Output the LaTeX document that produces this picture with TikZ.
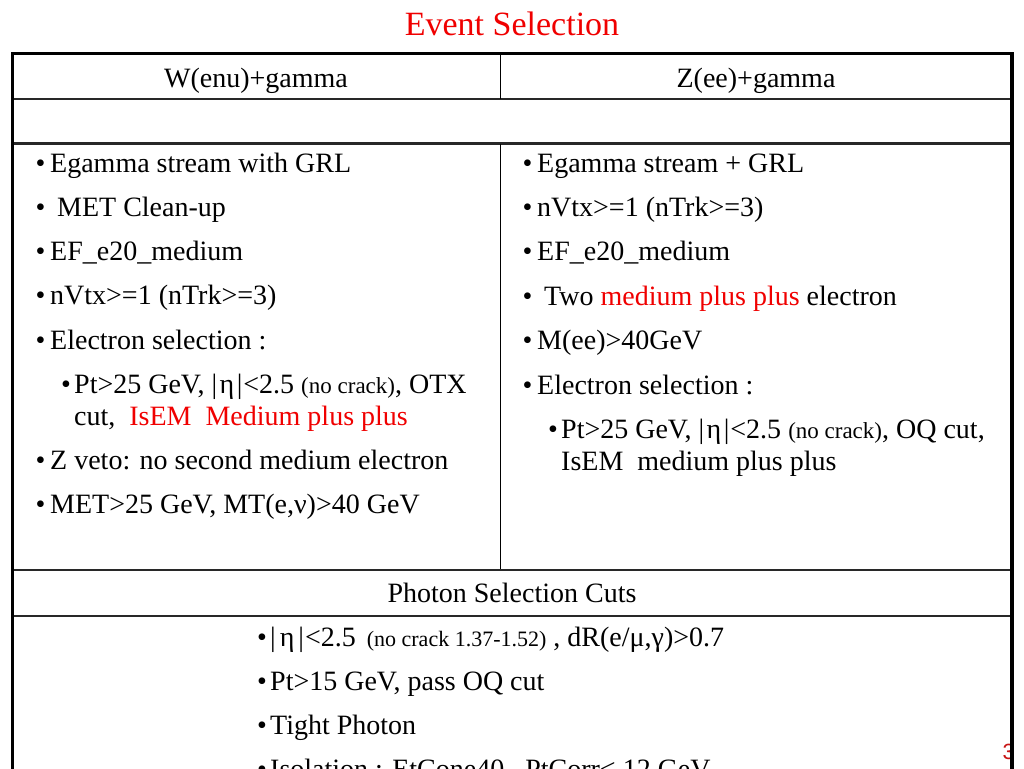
\documentclass[tikz,border=0pt]{standalone}
\usepackage{fontspec}
\setmainfont{Liberation Serif}
\newfontfamily\pnfont{Liberation Sans}
\definecolor{slidered}{RGB}{240,0,0}
\definecolor{pagered}{RGB}{200,20,20}
\definecolor{rulegray}{RGB}{40,40,40}
\newcommand{\bmain}{\makebox[14.5pt][l]{•}}
\newcommand{\bsub}{\makebox[13pt][l]{•}}
\newcommand{\smalltxt}[1]{{\fontsize{23}{26}\selectfont #1}}
\newcommand{\smallertxt}[1]{{\fontsize{22}{25}\selectfont #1}}
\newcommand{\abseta}[1]{|\kern#1 η\kern#1|\kern1pt}
\begin{document}
\begin{tikzpicture}[x=1pt,y=-1pt,
  txt/.style={anchor=base west, inner sep=0pt, font=\fontsize{28}{32}\selectfont},
  ctr/.style={anchor=base, inner sep=0pt, font=\fontsize{28}{32}\selectfont},
  ttl/.style={anchor=base, inner sep=0pt, font=\fontsize{34}{38}\selectfont, text=slidered},
  outerline/.style={line width=3pt, black},
  rowline/.style={line width=1.6pt, rulegray},
  rowlinethick/.style={line width=2.2pt, rulegray},
  colline/.style={line width=1pt, black}]
\useasboundingbox (0,0) rectangle (1024,768);
\clip (0,0) rectangle (1024,768);
\fill[white] (0,0) rectangle (1024,768);

% title
\node[ttl] (title) at (512,36) {Event Selection};

% page number (behind border)
\node[anchor=base west, inner sep=0pt, font=\pnfont\fontsize{22}{24}\selectfont, text=pagered] (pg) at (1002.5,759) {3};

% table rules
\draw[rowline] (12.5,99) -- (1012,99);
\draw[rowlinethick] (12.5,143.5) -- (1012,143.5);
\draw[colline] (500,54) -- (500,99);
\draw[colline] (500,143.5) -- (500,570);
\draw[rowline] (12.5,570) -- (1012,570);
\draw[rowlinethick] (12.5,616) -- (1012,616);
\draw[outerline] (12.5,800) -- (12.5,54) -- (1012,54);
\draw[line width=4pt] (1012,52.5) -- (1012,800);

% headers
\node[ctr] (hW) at (256,87) {W(enu)+gamma};
\node[ctr] (hZ) at (756,87) {Z(ee)+gamma};

% left column
\node[txt] (l1) at (35.5,172) {\bmain Egamma stream with GRL};
\node[txt] (l2) at (35.5,216) {\bmain\ MET Clean-up};
\node[txt] (l3) at (35.5,260) {\bmain EF\_e20\_medium};
\node[txt] (l4) at (35.5,304) {\bmain nVtx>=1 (nTrk>=3)};
\node[txt] (l5) at (35.5,349) {\bmain Electron selection :};
\node[txt] (l6) at (61,393) {\bsub Pt>25 GeV, \abseta{2.5pt}<2.5 \smalltxt{(no crack)}, OTX};
\node[txt] (l7) at (74,425) {cut,\ \ \textcolor{slidered}{IsEM\ \ Medium plus plus}};
\node[txt] (l8) at (35.5,469) {\bmain Z veto: no second medium electron};
\node[txt] (l9) at (35.5,513) {\bmain MET>25 GeV, MT(e,ν)>40 GeV};

% right column
\node[txt] (r1) at (522.5,172) {\bmain Egamma stream + GRL};
\node[txt] (r2) at (522.5,216) {\bmain nVtx>=1 (nTrk>=3)};
\node[txt] (r3) at (522.5,260) {\bmain EF\_e20\_medium};
\node[txt] (r4) at (522.5,305) {\bmain\ Two \textcolor{slidered}{medium plus plus} electron};
\node[txt] (r5) at (522.5,349) {\bmain M(ee)>40GeV};
\node[txt] (r6) at (522.5,394) {\bmain Electron selection :};
\node[txt] (r7) at (548,438) {\bsub Pt>25 GeV, \abseta{2.5pt}<2.5 \smalltxt{(no crack)}, OQ cut,};
\node[txt] (r8) at (561,470) {IsEM\ \ medium plus plus};

% photon section
\node[ctr] (hP) at (512,602) {Photon Selection Cuts};
\node[txt] (p1) at (257,646) {\bsub \abseta{4pt}<2.5\kern4pt\ \smallertxt{(no crack 1.37-1.52)} , dR(e/μ,γ)>0.7};
\node[txt] (p2) at (257,690) {\bsub Pt>15 GeV, pass OQ cut};
\node[txt] (p3) at (257,734) {\bsub Tight Photon};
\node[txt] (p4) at (257,778) {\bsub Isolation : EtCone40 –PtCorr< 12 GeV};
\end{tikzpicture}
\end{document}
